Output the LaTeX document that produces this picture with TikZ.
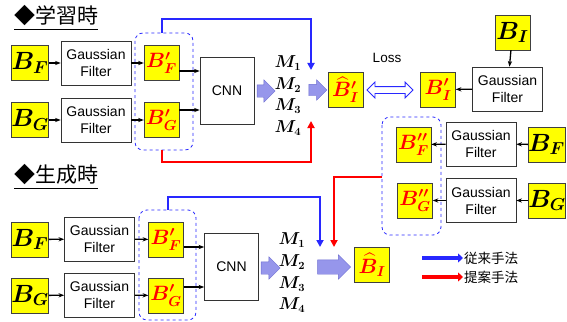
\documentclass[tikz,border=0pt]{standalone}
\usepackage{amsmath,amssymb,bm}
\usepackage{fontspec}
\setsansfont{Liberation Sans}
\newfontfamily\jpfont{Noto Sans CJK JP}
\usepackage{tikz}
\usetikzlibrary{positioning,arrows.meta,calc,shapes.arrows}
\definecolor{imgyellow}{RGB}{255,255,0}
\definecolor{flowblue}{RGB}{40,40,255}
\definecolor{flowred}{RGB}{255,0,0}
\definecolor{fatfill}{RGB}{150,150,235}
\definecolor{fatline}{RGB}{110,110,210}
\tikzset{
  imgbox/.style={draw=black!75, fill=imgyellow, minimum width=35pt, minimum height=35pt, inner sep=0pt},
  filtbox/.style={draw=black!80, semithick, fill=white, align=center, font=\sffamily\fontsize{14}{17}\selectfont,
    minimum width=70pt, minimum height=44pt, inner sep=1pt},
  cnnbox/.style={draw=black!80, semithick, fill=white, font=\sffamily\fontsize{14}{17}\selectfont,
    minimum width=54pt, minimum height=67pt},
  grpbox/.style={draw=flowblue, dashed, thick, rounded corners=8pt},
  figarrow/.style={-{Stealth[length=2mm]}, line width=1.3pt},
  bluearrow/.style={-{Triangle[length=7pt,width=7pt]}, line width=1.8pt, flowblue},
  redarrow/.style={-{Triangle[length=7pt,width=7pt]}, line width=1.8pt, flowred},
  fatarrow/.style={single arrow, draw=fatline, fill=fatfill, inner xsep=0pt},
  mlabel/.style={font=\fontsize{16}{17}\selectfont, inner sep=0pt},
  titlelabel/.style={font=\jpfont\fontsize{21}{23}\selectfont, inner sep=0pt, anchor=west},
  legendlabel/.style={font=\jpfont\fontsize{13.5}{15}\selectfont, anchor=west, inner sep=1pt},
}
\newcommand{\inB}[1]{\fontsize{24}{24}\selectfont$\bm{B}_{\bm{#1}}$}
\newcommand{\gfB}[1]{\color{flowred}\fontsize{20}{20}\selectfont$\bm{B'_{#1}}$}
\newcommand{\gfBB}[1]{\color{flowred}\fontsize{20}{20}\selectfont$\bm{B''_{#1}}$}

\begin{document}
\begin{tikzpicture}[x=1pt, y=-1pt]
  \useasboundingbox (0,0) rectangle (567,321);
  % 学習時
  \node[titlelabel] (ttrain) at (14,18) {\underline{◆学習時}};
  \node[imgbox] (bf1) at (30,63) {\inB{F}};
  \node[imgbox] (bg1) at (30,120) {\inB{G}};
  \node[filtbox] (gf1) at (96,63) {Gaussian\\Filter};
  \node[filtbox] (gf2) at (96,120) {Gaussian\\Filter};
  \node[imgbox] (bpf1) at (161.5,63) {\gfB{F}};
  \node[imgbox] (bpg1) at (161.5,120) {\gfB{G}};
  \draw[grpbox] (135,33) rectangle (193,150);
  \coordinate (grp1t) at (162,33);
  \coordinate (grp1b) at (162,150);
  \node[cnnbox] (cnn1) at (227,91) {CNN};
  \node[fatarrow, inner ysep=6pt, single arrow head extend=5pt, minimum height=18pt] (fa1) at (263,91) {};
  \node[mlabel] (m11) at (288,63) {$\bm{M_1}$};
  \node[mlabel] (m12) at (288,85) {$\bm{M_2}$};
  \node[mlabel] (m13) at (288,106) {$\bm{M_3}$};
  \node[mlabel] (m14) at (288,128) {$\bm{M_4}$};
  \node[fatarrow, inner ysep=5.5pt, single arrow head extend=4.5pt, minimum height=18pt] (fa2) at (315,90) {};
  \node[imgbox] (bhat1) at (345.5,89.5) {\color{flowred}\fontsize{20}{20}\selectfont$\bm{\widehat{B}'_I}$};
  \node[double arrow, draw=flowblue, thick, fill=white, inner ysep=3pt, inner xsep=0pt, minimum height=46pt,
    double arrow head extend=4.5pt] (loss) at (390,90) {};
  \node[font=\sffamily\fontsize{13.5}{15}\selectfont] (losslbl) at (387,58) {Loss};
  \node[imgbox] (bpi) at (438,89.5) {\gfB{I}};
  \node[filtbox] (gf3) at (507.5,89) {Gaussian\\Filter};
  \node[imgbox] (bi) at (512.5,32.5) {\inB{I}};
  \node[imgbox] (bppf) at (413.5,144.5) {\gfBB{F}};
  \node[imgbox] (bppg) at (415,200.5) {\gfBB{G}};
  \node[filtbox] (gf4) at (481,144) {Gaussian\\Filter};
  \node[filtbox] (gf5) at (481,200.5) {Gaussian\\Filter};
  \node[imgbox] (bf2) at (546.5,144.5) {\inB{F}};
  \node[imgbox] (bg2) at (547,200.5) {\inB{G}};
  \draw[grpbox] (382,117) rectangle (441,235);
  \coordinate (grp2l) at (382,177);
  % 行き
  \draw[figarrow] (bf1) -- (gf1);
  \draw[figarrow] (bg1) -- (gf2);
  \draw[figarrow] (gf1) -- (bpf1);
  \draw[figarrow] (gf2) -- (bpg1);
  \draw[figarrow] ([yshift=-8pt]bpf1.east) -- ([yshift=-8pt]bpf1.east -| cnn1.west);
  \draw[figarrow] ([yshift=10pt]bpg1.east) -- ([yshift=10pt]bpg1.east -| cnn1.west);
  \draw[figarrow] (bi) -- (gf3);
  \draw[figarrow] (gf3) -- (bpi);
  \draw[figarrow] (bf2) -- (gf4);
  \draw[figarrow] (bg2) -- (gf5);
  \draw[figarrow] (gf4) -- (bppf);
  \draw[figarrow] (gf5) -- (bppg);
  % 従来手法・提案手法
  \coordinate (blu1) at (311,70);
  \coordinate (red1) at (311,121);
  \draw[bluearrow] (grp1t) |- (311,19) -- (blu1);
  \draw[redarrow] (grp1b) |- (311,162) -- (red1);

  % 生成時
  \node[titlelabel] (tgen) at (14,177) {\underline{◆生成時}};
  \node[imgbox] (bf3) at (30,239.5) {\inB{F}};
  \node[imgbox] (bg3) at (30,295.5) {\inB{G}};
  \node[filtbox] (gf6) at (99.5,239) {Gaussian\\Filter};
  \node[filtbox] (gf7) at (99.5,295) {Gaussian\\Filter};
  \node[imgbox] (bpf3) at (166,239.5) {\gfB{F}};
  \node[imgbox] (bpg3) at (166,295.5) {\gfB{G}};
  \draw[grpbox] (139,210) rectangle (196,320);
  \coordinate (grp3t) at (168,210);
  \node[cnnbox] (cnn3) at (231.5,267) {CNN};
  \node[fatarrow, inner ysep=6pt, single arrow head extend=5pt, minimum height=19pt] (fa3) at (267.5,268) {};
  \node[mlabel] (m31) at (292,240) {$\bm{M_1}$};
  \node[mlabel] (m32) at (292,262) {$\bm{M_2}$};
  \node[mlabel] (m33) at (292,284) {$\bm{M_3}$};
  \node[mlabel] (m34) at (292,305) {$\bm{M_4}$};
  \node[fatarrow, inner ysep=7pt, single arrow head extend=5pt, minimum height=33pt] (fa4) at (330.5,267) {};
  \node[imgbox] (bhat3) at (372,265) {\color{flowred}\fontsize{20}{20}\selectfont$\bm{\widehat{B}_I}$};
  \draw[figarrow] (bf3) -- (gf6);
  \draw[figarrow] (bg3) -- (gf7);
  \draw[figarrow] (gf6) -- (bpf3);
  \draw[figarrow] (gf7) -- (bpg3);
  \draw[figarrow] ([yshift=-7.5pt]bpf3.east) -- ([yshift=-7.5pt]bpf3.east -| cnn3.west);
  \draw[figarrow] ([yshift=8.5pt]bpg3.east) -- ([yshift=8.5pt]bpg3.east -| cnn3.west);
  \coordinate (blu3) at (320,247);
  \coordinate (red3) at (334,247);
  \draw[bluearrow] (grp3t) |- (320,197) -- (blu3);
  \draw[redarrow] (grp2l) -| (red3);
  % 凡例
  \coordinate (lgb1) at (422,258);
  \coordinate (lgb2) at (463,258);
  \coordinate (lgr1) at (422,277);
  \coordinate (lgr2) at (463,277);
  \draw[-{Triangle[length=5pt,width=9pt]}, line width=4pt, flowblue] (lgb1) -- (lgb2);
  \draw[-{Triangle[length=5pt,width=9pt]}, line width=4pt, flowred] (lgr1) -- (lgr2);
  \node[legendlabel] (lgbt) at (lgb2) {従来手法};
  \node[legendlabel] (lgrt) at (lgr2) {提案手法};
\end{tikzpicture}
\end{document}
